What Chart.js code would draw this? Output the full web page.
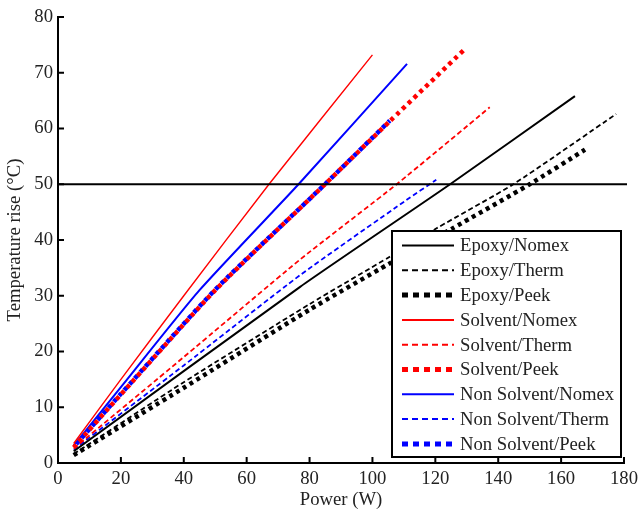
<!DOCTYPE html>
<html>
<head>
<meta charset="utf-8">
<script src="https://cdn.jsdelivr.net/npm/chart.js@4"></script>
<style>
  html, body { margin: 0; padding: 0; background: #fff; }
</style>
</head>
<body>
<canvas id="tempChart" width="638" height="514"></canvas>
<script>
// axis ticks
const powerTicks = [0, 20, 40, 60, 80, 100, 120, 140, 160, 180];
const tempTicks = [0, 10, 20, 30, 40, 50, 60, 70, 80];
const limitTemp = 50;

// Power (W) / Temperature rise (°C)
const epoxyNomexP = [5, 77, 124.7, 164.4];
const epoxyNomexT = [2.1, 31.6, 50, 65.8];
const epoxyThermP = [5, 40, 80, 105.5, 120.4, 144.8, 177.5];
const epoxyThermT = [1.6, 14.5, 28.5, 37, 42.1, 50, 62.6];
const epoxyPeekP = [5, 40, 80, 105.5, 125.2, 150, 167.6];
const epoxyPeekT = [1.4, 13.5, 27.5, 35.8, 42, 50, 56.2];

const solventNomexP = [5, 20, 40, 67.1, 100];
const solventNomexT = [3.5, 15, 30, 50, 73.2];
const solventThermP = [5, 40, 77, 107.7, 137.3];
const solventThermT = [2.6, 19, 36.5, 50, 63.8];
const solventPeekP = [5, 20, 50, 84.9, 105.5, 129.5];
const solventPeekT = [2.8, 12.3, 31, 50, 61.3, 74.3];

const nonSolventNomexP = [5, 20, 45, 76.5, 111];
const nonSolventNomexT = [3.1, 13.6, 31, 50, 71.6];
const nonSolventThermP = [5, 40, 77, 110.9, 120.3];
const nonSolventThermT = [2.4, 17.5, 33.7, 47.2, 50.8];
const nonSolventPeekP = [5, 20, 50, 84.9, 105.5];
const nonSolventPeekT = [2.9, 12.4, 31.1, 50, 61.4];

const pts = (xs, ys) => xs.map((x, i) => ({ x: x, y: ys[i] }));

const serif = "'Liberation Serif', 'Times New Roman', serif";
const textColor = "#222";

const solid = [];
const dashed = [5, 3];
const dotted = [4, 4];

function series(label, xs, ys, color, dash, width, offset) {
  return {
    label: label,
    data: pts(xs, ys),
    borderColor: color,
    borderWidth: width,
    borderDash: dash,
    borderDashOffset: offset || 0,
    pointRadius: 0,
    fill: false,
    tension: 0.2,
  };
}

const datasets = [
  series("Epoxy/Nomex", epoxyNomexP, epoxyNomexT, "#000", solid, 2),
  series("Epoxy/Therm", epoxyThermP, epoxyThermT, "#000", dashed, 1.8),
  series("Epoxy/Peek", epoxyPeekP, epoxyPeekT, "#000", dotted, 4.5),
  series("Solvent/Nomex", solventNomexP, solventNomexT, "#ff0000", solid, 1.4),
  series("Solvent/Therm", solventThermP, solventThermT, "#ff0000", dashed, 1.8),
  series("Solvent/Peek", solventPeekP, solventPeekT, "#ff0000", dotted, 4.5),
  series("Non Solvent/Nomex", nonSolventNomexP, nonSolventNomexT, "#0000ff", solid, 2),
  series("Non Solvent/Therm", nonSolventThermP, nonSolventThermT, "#0000ff", dashed, 1.8),
  series("Non Solvent/Peek", nonSolventPeekP, nonSolventPeekT, "#0000ff", dotted, 4.5, 4),
];

// 50 °C limit line across the plot
const limitLine = {
  id: "limitLine",
  afterDatasetsDraw(chart) {
    const ctx = chart.ctx;
    const area = chart.chartArea;
    const y = chart.scales.y.getPixelForValue(limitTemp);
    ctx.save();
    ctx.strokeStyle = "#000";
    ctx.lineWidth = 2;
    ctx.beginPath();
    ctx.moveTo(area.left, y);
    ctx.lineTo(area.right + 3, y);
    ctx.stroke();
    ctx.restore();
  }
};

// boxed legend inside the plot, lower right
const boxLegend = {
  id: "boxLegend",
  afterDatasetsDraw(chart) {
    const ctx = chart.ctx;
    const area = chart.chartArea;
    const left = area.right - 232, right = area.right - 3;
    const top = 231, bottom = area.bottom - 6;
    ctx.save();
    ctx.fillStyle = "#fff";
    ctx.fillRect(left, top, right - left, bottom - top);
    ctx.strokeStyle = "#000";
    ctx.lineWidth = 2;
    ctx.strokeRect(left, top, right - left, bottom - top);
    ctx.font = "18.7px " + serif;
    ctx.textBaseline = "middle";
    chart.data.datasets.forEach((ds, i) => {
      const y = top + 14.5 + i * 24.8;
      ctx.strokeStyle = ds.borderColor;
      ctx.lineWidth = ds.borderDash === dotted ? 5 : 2;
      ctx.setLineDash(ds.borderDash === dotted ? [6, 5] : ds.borderDash === dashed ? [6, 4] : []);
      ctx.beginPath();
      ctx.moveTo(left + 10, y);
      ctx.lineTo(left + 62, y);
      ctx.stroke();
      ctx.setLineDash([]);
      ctx.fillStyle = textColor;
      ctx.fillText(ds.label, left + 68, y + 1);
    });
    ctx.restore();
  }
};

// short inward tick marks, drawn on top
const innerTicks = {
  id: "innerTicks",
  afterDraw(chart) {
    const ctx = chart.ctx;
    const area = chart.chartArea;
    const xs = chart.scales.x, ys = chart.scales.y;
    ctx.save();
    ctx.strokeStyle = "#000";
    ctx.lineWidth = 2;
    ctx.beginPath();
    powerTicks.forEach(v => {
      const px = xs.getPixelForValue(v);
      ctx.moveTo(px, area.bottom);
      ctx.lineTo(px, area.bottom - 6);
    });
    tempTicks.forEach(v => {
      const py = ys.getPixelForValue(v);
      ctx.moveTo(area.left, py);
      ctx.lineTo(area.left + 6, py);
    });
    ctx.stroke();
    ctx.restore();
  }
};

new Chart(document.getElementById("tempChart"), {
  type: "line",
  data: { datasets: datasets },
  plugins: [limitLine, boxLegend, innerTicks],
  options: {
    responsive: false,
    animation: false,
    layout: { padding: { top: 17, right: 14, left: 0, bottom: 0 } },
    plugins: {
      legend: { display: false },
      tooltip: { enabled: false },
    },
    scales: {
      x: {
        type: "linear",
        min: 0,
        max: 180,
        afterBuildTicks: s => { s.ticks = powerTicks.map(v => ({ value: v })); },
        afterFit: s => { s.height = 51; s.paddingRight = 0; s.paddingLeft = 0; },
        grid: { display: false, drawTicks: false },
        border: { color: "#000", width: 2 },
        ticks: { font: { family: serif, size: 18.7 }, color: textColor, padding: 5, maxRotation: 0 },
        title: { display: true, text: "Power (W)", font: { family: serif, size: 18.7 }, color: textColor, padding: { top: 2, bottom: 3 } },
      },
      y: {
        type: "linear",
        min: 0,
        max: 80,
        afterBuildTicks: s => { s.ticks = tempTicks.map(v => ({ value: v })); },
        afterFit: s => { s.width = 58; s.paddingTop = 0; s.paddingBottom = 0; },
        grid: { display: false, drawTicks: false },
        border: { color: "#000", width: 2 },
        ticks: { font: { family: serif, size: 18.7 }, color: textColor, padding: 5 },
        title: { display: true, text: "Temperature rise (°C)", font: { family: serif, size: 18.7 }, color: textColor, padding: { top: 4, bottom: 4 } },
      },
    },
  },
});
</script>
</body>
</html>
